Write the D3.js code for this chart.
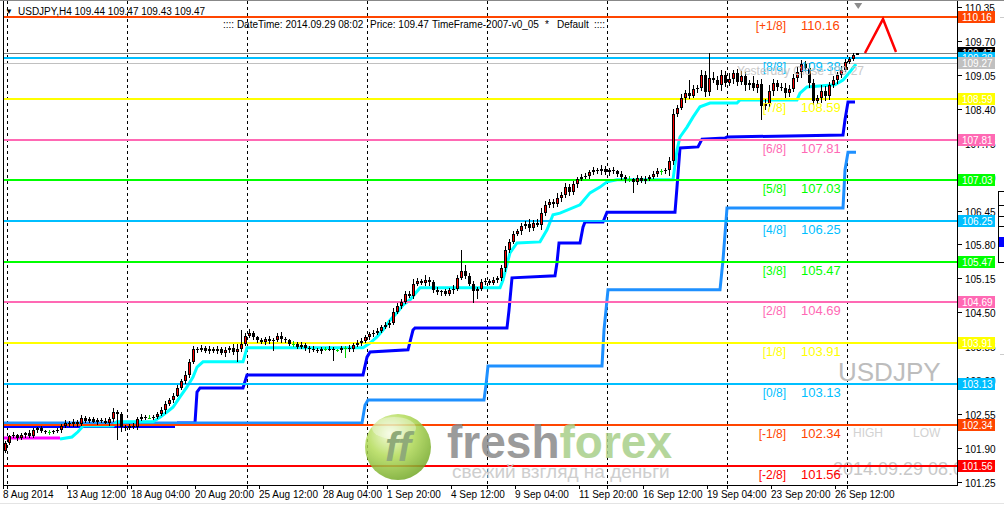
<!DOCTYPE html>
<html>
<head>
<meta charset="utf-8">
<script src="https://cdn.jsdelivr.net/npm/d3@7"></script>
<style>
  body { margin: 0; background: #fff; }
  svg { display: block; font-family: "Liberation Sans", Arial, sans-serif; }
</style>
</head>
<body>
<div id="chart"></div>
<script>
// USDJPY H4 closes, one per bar (8 Aug 2014 20:00 .. 29 Sep 2014 08:00)
const firstOpen = 101.85;
const closes = [
  102.00,102.12,102.15,102.10,102.14,102.18,102.13,102.25,102.28,102.22,
  102.20,102.20,102.22,102.24,102.32,102.38,102.35,102.40,102.36,102.48,
  102.42,102.45,102.40,102.44,102.42,102.38,102.45,102.58,102.55,102.30,
  102.28,102.32,102.30,102.45,102.50,102.48,102.48,102.50,102.55,102.62,
  102.75,102.82,102.90,103.05,103.18,103.30,103.55,103.80,103.78,103.82,
  103.76,103.80,103.75,103.80,103.72,103.78,103.82,103.74,103.79,103.90,
  104.05,104.10,104.02,103.96,103.93,103.98,103.95,103.97,104.05,103.98,
  103.96,103.90,103.90,103.84,103.88,103.82,103.80,103.78,103.76,103.80,
  103.80,103.79,103.77,103.77,103.81,103.81,103.79,103.88,103.92,103.95,
  104.02,104.08,104.10,104.15,104.22,104.26,104.30,104.50,104.62,104.70,
  104.85,104.82,105.05,105.10,105.07,105.12,105.08,104.92,104.88,104.90,
  104.86,104.92,104.95,105.15,105.30,105.20,105.05,104.90,104.95,105.08,
  105.10,105.07,105.12,105.15,105.35,105.70,105.85,106.00,106.05,106.15,
  106.20,106.12,106.22,106.18,106.40,106.55,106.62,106.58,106.70,106.75,
  106.90,106.80,106.95,107.05,107.10,107.12,107.18,107.22,107.20,107.25,
  107.18,107.22,107.20,107.15,107.10,107.05,107.05,107.00,107.08,107.02,
  107.06,107.10,107.15,107.20,107.20,107.22,107.40,108.30,108.42,108.60,
  108.70,108.65,108.78,108.80,109.05,108.72,109.00,108.95,108.85,109.05,
  108.90,108.98,109.08,108.92,109.02,108.85,108.90,108.80,108.88,108.45,
  108.50,108.75,108.90,108.82,108.80,108.70,108.78,109.00,109.10,109.25,
  109.18,108.90,108.55,108.60,108.75,108.65,108.85,108.95,109.05,109.15,
  109.30,109.35,109.44,109.47
];
// wick lengths above / below the body, in hundredths
const upperWick = [
  4,3,5,2,4,3,6,4,3,5, 3,4,2,5,4,6,3,5,4,6, 3,4,5,3,4,6,5,8,4,3,
  4,3,5,4,6,3,5,4,3,6, 5,4,6,5,4,8,6,5,4,6, 3,5,4,6,3,5,4,8,10,26,
  6,8,4,3,5,4,6,3,5,7, 4,3,5,4,6,3,4,5,3,4, 3,5,4,3,5,4,6,4,5,6,
  5,4,6,5,4,6,5,8,6,5, 6,5,8,6,4,10,5,4,6,3, 5,4,8,6,40,10,6,5,4,6,
  5,4,6,5,6,8,6,5,4,6, 5,8,4,6,10,8,6,5,8,6, 8,5,6,4,6,5,4,6,5,7,
  5,4,6,3,5,4,6,3,5,4, 6,4,5,6,4,5,8,10,6,8, 6,25,8,5,10,8,47,10,8,10,
  8,10,6,8,10,8,6,12,8,10, 8,10,8,6,8,10,8,6,10,8, 6,10,8,6,10,8,6,8,6,8,
  6,4,3,0
];
const lowerWick = [
  5,4,3,6,4,5,3,4,6,3, 4,5,3,4,6,3,5,4,6,3, 5,4,3,6,4,3,5,6,50,10,
  5,4,3,6,4,5,3,4,5,4, 6,4,5,3,4,6,5,4,6,5, 4,6,3,5,4,8,6,5,20,6,
  5,4,6,5,4,6,5,20,4,6, 5,4,6,5,4,6,8,5,4,6, 5,4,20,4,5,18,6,5,4,6,
  4,5,6,4,5,4,6,5,4,6, 5,4,6,5,4,6,8,5,4,6, 5,4,6,5,4,6,5,22,15,4,
  6,5,4,6,5,8,6,5,4,6, 5,8,6,4,10,6,5,8,6,8, 6,8,5,6,4,5,6,4,5,6,
  5,6,4,5,6,8,5,21,6,5, 6,5,4,5,6,4,10,8,6,5, 8,6,5,8,6,10,8,6,8,10,
  8,6,10,8,6,10,8,6,10,26, 8,6,10,8,6,10,8,6,8,10, 8,10,8,6,8,10,8,6,8,6,
  5,4,3,1
];

const dateLabels = ['8 Aug 2014','13 Aug 12:00','18 Aug 04:00','20 Aug 20:00','25 Aug 12:00',
  '28 Aug 04:00','1 Sep 20:00','4 Sep 12:00','9 Sep 04:00','11 Sep 20:00','16 Sep 12:00',
  '19 Sep 04:00','23 Sep 20:00','26 Sep 12:00'];
const dateLabelBars = [0,16,32,48,64,80,96,112,128,144,160,176,192,208];
const gridBars = [0.6,30.6,60.6,90.6,120.6,150.6,180.6,210.6];

const priceTicks = [110.35,109.70,109.05,108.40,107.75,107.10,106.45,105.80,105.15,104.50,
  103.85,103.20,102.55,101.90,101.25];

// Murrey math levels
const levelNames = ['[+1/8]','[8/8]','[7/8]','[6/8]','[5/8]','[4/8]','[3/8]','[2/8]','[1/8]','[0/8]','[-1/8]','[-2/8]'];
const levelValues = [110.16,109.38,108.59,107.81,107.03,106.25,105.47,104.69,103.91,103.13,102.34,101.56];
const currentPrice = 109.47;
const yesterdayClose = 109.27;

// indicator lines: [bar, price]
const cyanLine = [[13.75,102.07],[16.75,102.11],[18.25,102.21],[19.5,102.32],[27,102.32],[28,102.40],
  [37,102.40],[38.75,102.49],[40.5,102.59],[42,102.68],[43.75,102.88],[45.5,103.07],[47,103.26],
  [48,103.45],[49.5,103.55],[59.5,103.55],[60.5,103.82],[89.5,103.82],[91.25,103.91],[93,104.03],
  [94.5,104.16],[96.25,104.35],[98,104.49],[99.5,104.64],[101.25,104.74],[103.75,104.97],
  [123.75,104.97],[124.5,105.12],[126.25,105.64],[128,105.83],[133.75,105.85],[135.5,106.08],
  [137,106.37],[138.75,106.40],[143.75,106.56],[146.25,106.79],[148.75,106.90],[150.5,107.00],
  [153,107.04],[167,107.04],[168,107.61],[168.75,107.86],[170.5,108.05],[172,108.24],
  [173.75,108.44],[176.25,108.51],[183,108.51],[183.75,108.57],[198,108.57],[198.75,108.70],
  [200.5,108.82],[207.5,108.86],[209.5,108.95],[211.25,109.11],[212.75,109.26]];
const blueTail = [[-0.5,102.30],[42.5,102.30]];
const blueLine = [[43,102.38],[47.5,102.38],[48,102.97],[48.75,103.05],[59.5,103.05],[60.5,103.30],
  [89.5,103.30],[90.5,103.64],[91.25,103.74],[100.75,103.78],[102,104.16],[102.5,104.20],
  [125.5,104.20],[126,104.54],[126.75,105.16],[137.5,105.20],[138,105.45],[138.5,105.83],
  [143.75,105.83],[144.5,106.13],[145,106.23],[149.5,106.23],[150.5,106.42],[167.5,106.42],
  [168,106.90],[168.75,107.65],[173.25,107.67],[174.25,107.82],[180,107.84],[180.5,107.86],
  [209.5,107.90],[210,108.19],[210.75,108.53],[212.5,108.53]];
const dodgerLine = [[-0.5,102.38],[89.25,102.38],[90,102.72],[90.75,102.82],[119.75,102.82],
  [120.25,103.11],[120.75,103.47],[149.25,103.47],[149.75,104.16],[150.75,104.93],[178.75,104.93],
  [179.5,105.50],[180.5,106.50],[209.5,106.50],[210,107.23],[210.75,107.57],[212.75,107.57]];
const magentaLine = [[-0.5,102.09],[13.75,102.09]];
const arrowPts = [[215,109.47],[219.5,110.12],[222.75,109.49]];

// styles
const levelColors = ['#FF4500','#00BFFF','#FFFF00','#FF69B4','#00FF00','#00BFFF','#00FF00','#FF69B4','#FFFF00','#00BFFF','#FF4500','#FF0000'];

const W = 1004, H = 505;
const plotRight = 957, plotBottom = 485;

const svg = d3.select('#chart').append('svg')
  .attr('width', W).attr('height', H);

svg.append('rect').attr('width', W).attr('height', H).attr('fill', '#fff');

// 4 px per bar, price scale as on the MT4 chart
const x = d3.scaleLinear().domain([0, 238]).range([5, plotRight]);
const y = d3.scaleLinear().domain([101.19, 110.486]).range([plotBottom, 0]);

svg.append('clipPath').attr('id', 'plot')
  .append('rect').attr('x', 4).attr('y', 1).attr('width', plotRight - 4).attr('height', plotBottom - 1);

const plot = svg.append('g').attr('clip-path', 'url(#plot)');

// dashed vertical grid
plot.selectAll('line.grid').data(gridBars).enter().append('line')
  .attr('class', 'grid')
  .attr('x1', d => Math.round(x(d)) + 0.5).attr('x2', d => Math.round(x(d)) + 0.5)
  .attr('y1', 1).attr('y2', plotBottom)
  .attr('stroke', '#000').attr('stroke-dasharray', '3,3');

// watermarks
plot.append('text').attr('x', 838).attr('y', 381)
  .attr('font-size', 26).attr('fill', '#bdbdbd').text('USDJPY');
plot.append('text').attr('x', 853).attr('y', 437)
  .attr('font-size', 12).attr('fill', '#d2d2d2').text('HIGH');
plot.append('text').attr('x', 913).attr('y', 437)
  .attr('font-size', 12).attr('fill', '#d2d2d2').text('LOW');
plot.append('text').attr('x', 833).attr('y', 475)
  .attr('font-size', 18).attr('fill', '#c8c8c8').text('2014.09.29 08:02');

const line = d3.line().x(d => x(d[0])).y(d => y(d[1]));

// indicator lines
plot.append('path').attr('d', line(blueTail)).attr('fill', 'none')
  .attr('stroke', '#0000FF').attr('stroke-width', 2);
plot.append('path').attr('d', line(blueLine)).attr('fill', 'none')
  .attr('stroke', '#0000FF').attr('stroke-width', 3);
plot.append('path').attr('d', line(dodgerLine)).attr('fill', 'none')
  .attr('stroke', '#1E90FF').attr('stroke-width', 3);
plot.append('path').attr('d', line(cyanLine)).attr('fill', 'none')
  .attr('stroke', '#00FFFF').attr('stroke-width', 3);
plot.append('path').attr('d', line(magentaLine)).attr('fill', 'none')
  .attr('stroke', '#FF00FF').attr('stroke-width', 3);

// price lines
plot.append('line').attr('x1', 4).attr('x2', plotRight)
  .attr('y1', Math.round(y(currentPrice)) + 0.5).attr('y2', Math.round(y(currentPrice)) + 0.5)
  .attr('stroke', '#808080');
plot.append('line').attr('x1', 4).attr('x2', plotRight)
  .attr('y1', Math.round(y(yesterdayClose)) + 0.5).attr('y2', Math.round(y(yesterdayClose)) + 0.5)
  .attr('stroke', '#c0c0c0');

// Murrey levels
plot.selectAll('line.level').data(levelValues).enter().append('line')
  .attr('class', 'level')
  .attr('x1', 4).attr('x2', plotRight)
  .attr('y1', d => Math.round(y(d))).attr('y2', d => Math.round(y(d)))
  .attr('stroke', (d, i) => levelColors[i]).attr('stroke-width', 2);

// candles
const bars = closes.map((c, i) => {
  const o = i ? closes[i - 1] : firstOpen;
  return { i, o, c, h: Math.max(o, c) + upperWick[i] / 100, l: Math.min(o, c) - lowerWick[i] / 100 };
});

const candle = plot.selectAll('g.bar').data(bars).enter().append('g').attr('class', 'bar');
candle.append('rect')
  .attr('x', d => Math.round(x(d.i)))
  .attr('y', d => Math.round(y(d.h)))
  .attr('width', 1)
  .attr('height', d => Math.max(1, Math.round(y(d.l)) - Math.round(y(d.h))))
  .attr('fill', d => d.o === d.c ? '#00D000' : '#000');
candle.append('rect')
  .attr('x', d => Math.round(x(d.i)) - 1)
  .attr('y', d => Math.round(y(Math.max(d.o, d.c))))
  .attr('width', 3)
  .attr('height', d => Math.max(1, Math.round(y(Math.min(d.o, d.c))) - Math.round(y(Math.max(d.o, d.c)))))
  .attr('fill', d => d.o === d.c ? '#00D000' : '#000');
candle.filter(d => d.c > d.o).append('rect')
  .attr('x', d => Math.round(x(d.i)))
  .attr('y', d => Math.round(y(d.c)) + 1)
  .attr('width', 1)
  .attr('height', d => Math.max(0, Math.round(y(d.o)) - Math.round(y(d.c)) - 2))
  .attr('fill', '#FF0000');

// level captions
const capY = d => Math.round(y(d)) + 13;
plot.selectAll('text.lvname').data(levelValues).enter().append('text')
  .attr('x', 786).attr('y', capY).attr('text-anchor', 'end')
  .attr('font-size', 12).attr('fill', (d, i) => levelColors[i])
  .text((d, i) => levelNames[i]);
plot.selectAll('text.lvval').data(levelValues).enter().append('text')
  .attr('x', 801).attr('y', capY)
  .attr('font-size', 13).attr('fill', (d, i) => levelColors[i])
  .text(d => d.toFixed(2));
plot.append('text').attr('x', 737).attr('y', 75)
  .attr('font-size', 12).attr('fill', '#c4c4c4').attr('opacity', 0.9)
  .text('Yesterday Close ' + yesterdayClose.toFixed(2));

// freshforex logo watermark
const defs = svg.append('defs');
const glow = defs.append('radialGradient').attr('id', 'ffGlow')
  .attr('cx', '38%').attr('cy', '30%').attr('r', '75%');
glow.append('stop').attr('offset', '0%').attr('stop-color', '#f2fbd6');
glow.append('stop').attr('offset', '45%').attr('stop-color', '#b4dc5a');
glow.append('stop').attr('offset', '100%').attr('stop-color', '#6fa524');

const logo = plot.append('g').attr('opacity', 0.85);
logo.append('circle').attr('cx', 398).attr('cy', 447).attr('r', 33).attr('fill', 'url(#ffGlow)');
logo.append('ellipse').attr('cx', 394).attr('cy', 428).attr('rx', 22).attr('ry', 11)
  .attr('fill', '#fff').attr('opacity', 0.35);
logo.append('text').attr('x', 398).attr('y', 461).attr('text-anchor', 'middle')
  .attr('font-size', 40).attr('font-weight', 'bold').attr('font-style', 'italic')
  .attr('fill', '#7c9c62').text('ff');
const brand = logo.append('text').attr('x', 447).attr('y', 458)
  .attr('font-size', 46).attr('font-weight', 'bold');
brand.append('tspan').attr('fill', '#8a8a8a').text('fresh');
brand.append('tspan').attr('fill', '#a9d08a').text('forex');
logo.append('text').attr('x', 452).attr('y', 478)
  .attr('font-size', 19).attr('fill', '#c6c6c6').text('свежий взгляд на деньги');

// red arrow object and shift marker
plot.append('path').attr('d', line(arrowPts)).attr('fill', 'none')
  .attr('stroke', '#FF0000').attr('stroke-width', 2.5);
plot.append('path')
  .attr('d', `M${x(213.3) - 4},3 L${x(213.3) + 4},3 L${x(213.3)},9 Z`)
  .attr('fill', '#8c8c8c');

// frame
svg.append('line').attr('x1', 0).attr('x2', W).attr('y1', 0.5).attr('y2', 0.5).attr('stroke', '#888');
svg.append('line').attr('x1', 3.5).attr('x2', 3.5).attr('y1', 1).attr('y2', plotBottom).attr('stroke', '#000');
svg.append('line').attr('x1', plotRight + 0.5).attr('x2', plotRight + 0.5).attr('y1', 1).attr('y2', plotBottom + 1).attr('stroke', '#000');
svg.append('line').attr('x1', 3).attr('x2', plotRight + 1).attr('y1', plotBottom + 0.5).attr('y2', plotBottom + 0.5).attr('stroke', '#000');

// header
svg.append('text').attr('x', 5).attr('y', 14).attr('font-size', 8).text('▼');
svg.append('text').attr('x', 18).attr('y', 15).attr('font-size', 10)
  .text('USDJPY,H4  109.44 109.47 109.43 109.47');
const hdr = [[223, ':::: DateTime: 2014.09.29 08:02'], [370, 'Price: 109.47'],
  [432, 'TimeFrame-2007-v0_05'], [545, '*'], [557, 'Default'], [594, '::::']];
svg.selectAll('text.hdr').data(hdr).enter().append('text')
  .attr('class', 'hdr').attr('x', d => d[0]).attr('y', 28).attr('font-size', 10)
  .text(d => d[1]);

// right price axis
const yAxis = svg.append('g');
priceTicks.forEach(p => {
  const py = Math.round(y(p)) + 0.5;
  yAxis.append('line').attr('x1', plotRight + 1).attr('x2', plotRight + 5)
    .attr('y1', py).attr('y2', py).attr('stroke', '#000');
  yAxis.append('text').attr('x', 965).attr('y', py + 4)
    .attr('font-size', 10).text(p.toFixed(2));
});

function priceBox(p, fill) {
  const py = Math.round(y(p));
  yAxis.append('rect').attr('x', 958).attr('y', py - 6).attr('width', 37).attr('height', 12).attr('fill', fill);
  yAxis.append('text').attr('x', 962).attr('y', py + 4)
    .attr('font-size', 10).attr('fill', '#fff').text(p.toFixed(2));
}
priceBox(currentPrice, '#000');
levelValues.forEach((v, i) => priceBox(v, levelColors[i]));
priceBox(yesterdayClose, '#c0c0c0');

// time axis
const xAxis = svg.append('g');
dateLabelBars.forEach((b, i) => {
  const px = Math.round(x(b)) - 1.5;
  xAxis.append('line').attr('x1', px).attr('x2', px).attr('y1', plotBottom).attr('y2', plotBottom + 4).attr('stroke', '#000');
  xAxis.append('text').attr('x', px - 0.5).attr('y', 498).attr('font-size', 10).text(dateLabels[i]);
});
gridBars.forEach(b => {
  const px = Math.round(x(b)) + 0.5;
  xAxis.append('line').attr('x1', px).attr('x2', px).attr('y1', plotBottom).attr('y2', plotBottom + 4).attr('stroke', '#000');
});
svg.append('line').attr('x1', 0).attr('x2', W).attr('y1', 503.5).attr('y2', 503.5).attr('stroke', '#e4e4e4');

// edge of the side panel
const side = svg.append('g');
side.append('rect').attr('x', 998.5).attr('y', 191.5).attr('width', 10).attr('height', 71)
  .attr('fill', '#fff').attr('stroke', '#000');
[205, 216, 226].forEach(r => side.append('line').attr('x1', 999).attr('x2', W)
  .attr('y1', r + 0.5).attr('y2', r + 0.5).attr('stroke', '#000'));
side.append('rect').attr('x', 999).attr('y', 237).attr('width', 6).attr('height', 10).attr('fill', '#0000FF');
side.append('line').attr('x1', 1000).attr('x2', W).attr('y1', 17.5).attr('y2', 17.5).attr('stroke', '#ccc');
side.append('line').attr('x1', 1000).attr('x2', W).attr('y1', 354.5).attr('y2', 354.5).attr('stroke', '#ccc');
</script>
</body>
</html>
